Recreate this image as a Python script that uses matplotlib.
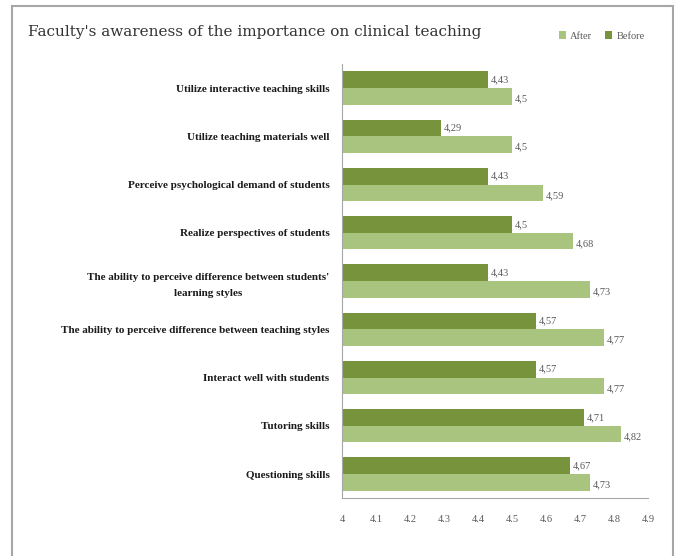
import matplotlib.pyplot as plt
import numpy as np
from matplotlib.patches import Rectangle

# ── Data ──────────────────────────────────────────────────────────────────────
categories = [
    "Utilize interactive teaching skills",
    "Utilize teaching materials well",
    "Perceive psychological demand of students",
    "Realize perspectives of students",
    "The ability to perceive difference between students'\nlearning styles",
    "The ability to perceive difference between teaching styles",
    "Interact well with students",
    "Tutoring skills",
    "Questioning skills",
]
before = [4.43, 4.29, 4.43, 4.5, 4.43, 4.57, 4.57, 4.71, 4.67]
after = [4.5, 4.5, 4.59, 4.68, 4.73, 4.77, 4.77, 4.82, 4.73]
x_ticks = [4, 4.1, 4.2, 4.3, 4.4, 4.5, 4.6, 4.7, 4.8, 4.9]

dark_green = "#77933c"
light_green = "#a9c47f"
serif = "Liberation Serif"

fig = plt.figure(figsize=(6.76, 5.56), dpi=100)
ax = fig.add_axes([0.506, 0.104, 0.453, 0.781])

# ── Bars ──────────────────────────────────────────────────────────────────────
y = np.arange(len(categories))
h = 0.345
ax.barh(y - h / 2, [b - 4 for b in before], height=h, left=4, color=dark_green, label="Before")
ax.barh(y + h / 2, [a - 4 for a in after], height=h, left=4, color=light_green, label="After")

def fmt(v):
    return f"{v:g}".replace(".", ",")

for yi, b, a in zip(y, before, after):
    ax.text(b + 0.008, yi - h / 2, fmt(b), va="center", ha="left",
            fontsize=7.5, family=serif, color="#595959")
    ax.text(a + 0.008, yi + h / 2 + 0.05, fmt(a), va="center", ha="left",
            fontsize=7.5, family=serif, color="#595959")

# ── Axes styling ──────────────────────────────────────────────────────────────
ax.set_xlim(4, 4.9)
ax.set_ylim(len(categories) - 0.5, -0.5)
ax.set_xticks(x_ticks)
ax.set_xticklabels([f"{t:g}" for t in x_ticks], family=serif, fontsize=7.5, color="#595959")
ax.set_yticks(y)
ax.set_yticklabels(categories, family=serif, fontsize=8, fontweight="bold", color="#1a1a1a")
ax.tick_params(axis="both", length=0)
ax.tick_params(axis="x", pad=12)
ax.tick_params(axis="y", pad=9)
for lbl in ax.get_yticklabels():
    lbl.set_horizontalalignment("right")
    lbl.set_multialignment("center")
    lbl.set_linespacing(2.0)
for s in ["top", "right"]:
    ax.spines[s].set_visible(False)
ax.spines["left"].set_color("#a6a6a6")
ax.spines["bottom"].set_color("#a6a6a6")

# ── Title, legend, frame ──────────────────────────────────────────────────────
fig.text(0.041, 0.942, "Faculty's awareness of the importance on clinical teaching",
         family="DejaVu Serif", fontsize=11, color="#333333", va="center", ha="left")

handles, labels = ax.get_legend_handles_labels()
fig.legend(handles[::-1], labels[::-1], loc="center", bbox_to_anchor=(0.89, 0.935),
           ncol=2, frameon=False, prop={"family": serif, "size": 7.5},
           handlelength=0.7, handleheight=0.7, columnspacing=1.2, handletextpad=0.4)
for t in fig.legends[0].get_texts():
    t.set_color("#595959")

fig.patches.append(Rectangle((0.018, -0.01), 0.978, 1.0, transform=fig.transFigure,
                             fill=False, edgecolor="#a6a6a6", linewidth=1.5))

plt.savefig("out.png", dpi=100)
